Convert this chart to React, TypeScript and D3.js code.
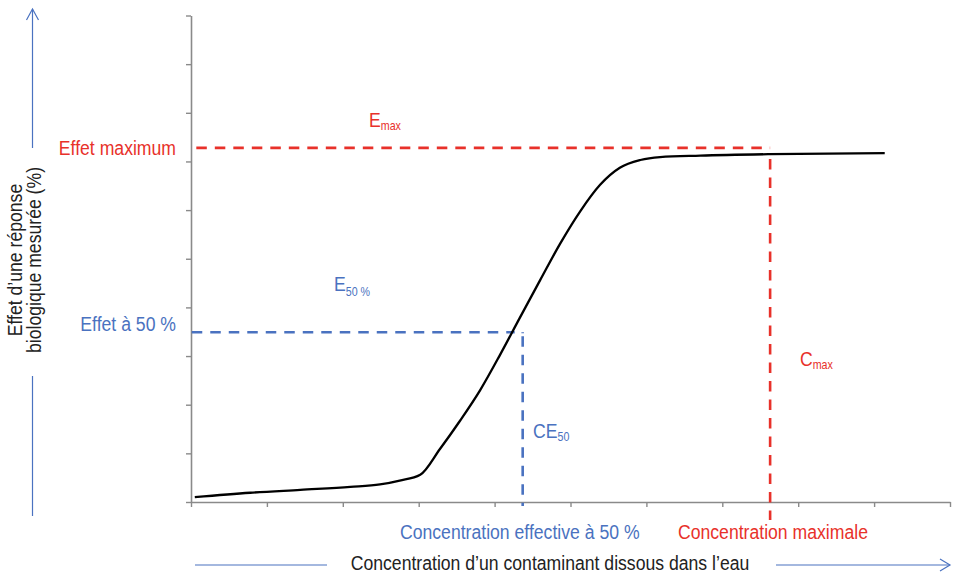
import React, { useEffect, useRef } from 'react';
import * as d3 from 'd3';

const W = 956;
const H = 574;

const xTicks = [0, 1, 2, 3, 4, 5, 6, 7, 8, 9, 10];
const yTicks = [0, 1, 2, 3, 4, 5, 6, 7, 8, 9, 10];

// Dose-response curve (concentration units, effect units)
const curveX = [0.05, 0.78, 1.44, 2.10, 2.49, 2.75, 3.02, 3.28, 3.54, 3.81, 4.07, 4.33, 4.60, 4.86, 5.13, 5.39, 5.65, 5.92, 6.18, 6.71, 7.63, 9.14];
const curveY = [0.10, 0.19, 0.25, 0.31, 0.36, 0.44, 0.56, 1.09, 1.66, 2.30, 3.02, 3.78, 4.56, 5.30, 5.98, 6.52, 6.87, 7.03, 7.09, 7.12, 7.15, 7.17];

// Reference levels
const effectMax = 7.28;
const concMax = 7.63;
const effect50 = 3.49;
const ce50 = 4.37;

const RED = '#E8312A';
const BLUE = '#4A72C0';
const AXIS = '#8a8a8a';
const FONT = '"Liberation Sans", Arial, Helvetica, sans-serif';

const x = d3.scaleLinear().domain([0, 10]).range([191, 950]);
const y = d3.scaleLinear().domain([0, 10]).range([502, 15.5]);

type LabelProps = {
  x: number; y: number; anchor?: string; size?: number; fill: string;
  sx?: number; rotate?: number; children: React.ReactNode;
};
const Label = ({ x, y, anchor = 'start', size = 19.8, fill, sx = 0.89, rotate = 0, children }: LabelProps) => (
  <text
    transform={`translate(${x},${y}) rotate(${rotate}) scale(${sx},1)`}
    textAnchor={anchor}
    fontSize={size}
    fill={fill}
    fontFamily={FONT}
  >
    {children}
  </text>
);

export default function App() {
  const xAxisRef = useRef<SVGGElement>(null);
  const yAxisRef = useRef<SVGGElement>(null);

  useEffect(() => {
    const xa = d3.axisBottom(x).tickValues(xTicks).tickFormat(() => '').tickSize(5).tickSizeOuter(0);
    const ya = d3.axisLeft(y).tickValues(yTicks).tickFormat(() => '').tickSize(5).tickSizeOuter(0);
    const gx = d3.select(xAxisRef.current!);
    gx.call(xa as any);
    const gy = d3.select(yAxisRef.current!);
    gy.call(ya as any);
    [gx, gy].forEach((g) => {
      g.select('.domain').attr('stroke', AXIS).attr('stroke-width', 1.6);
      g.selectAll('.tick line').attr('stroke', AXIS).attr('stroke-width', 1.4);
    });
  }, []);

  const line = d3
    .line<number>()
    .x((_, i) => x(curveX[i]))
    .y((d) => y(d))
    .curve(d3.curveMonotoneX);

  const dash = '10.5 8';

  return (
    <svg width={W} height={H} style={{ position: 'absolute', left: 0, top: 0, background: '#fff' }}>
      <rect width={W} height={H} fill="#fff" />
      <g ref={yAxisRef} transform={`translate(${x(0)},0)`} />
      <g ref={xAxisRef} transform={`translate(0,${y(0)})`} />

      {/* Emax horizontal */}
      <line x1={x(0.07)} x2={x(concMax)} y1={y(effectMax)} y2={y(effectMax)} stroke={RED} strokeWidth={2.6} strokeDasharray={dash} />
      {/* Cmax vertical */}
      <line x1={x(concMax)} x2={x(concMax)} y1={y(7.05)} y2={y(-0.37)} stroke={RED} strokeWidth={2.6} strokeDasharray={dash} />
      {/* E50 horizontal */}
      <line x1={x(0.01)} x2={x(ce50) - 8} y1={y(effect50)} y2={y(effect50)} stroke={BLUE} strokeWidth={2.6} strokeDasharray={dash} />
      {/* CE50 vertical */}
      <line x1={x(ce50)} x2={x(ce50)} y1={y(effect50)} y2={y(-0.08)} stroke={BLUE} strokeWidth={2.6} strokeDasharray="1 3 10.5 8 10.5 8 10.5 8 10.5 8 10.5 8 10.5 8 10.5 8 10.5 8 10.5 8 10.5 8" />

      {/* curve */}
      <path d={line(curveY) || ''} fill="none" stroke="#000" strokeWidth={2.3} />

      {/* axis arrows */}
      <g stroke={BLUE} strokeWidth={1.2} fill="none">
        <line x1={32.5} x2={32.5} y1={9} y2={148} />
        <line x1={32.5} x2={32.5} y1={376} y2={516} />
        <polyline points="26.5,20 32.5,9 38.5,20" />
        <line x1={195} x2={327} y1={565} y2={565} />
        <line x1={776} x2={950} y1={565} y2={565} />
        <polyline points="940,559 950,565 940,571" />
      </g>

      {/* Y title */}
      <Label x={22} y={260} anchor="middle" fill="#222" rotate={-90}>Effet d’une réponse</Label>
      <Label x={41} y={260} anchor="middle" fill="#222" rotate={-90}>biologique mesurée (%)</Label>

      {/* left labels */}
      <Label x={176} y={155} anchor="end" fill={RED}>Effet maximum</Label>
      <Label x={176} y={331} anchor="end" fill={BLUE}>Effet à 50 %</Label>

      {/* annotations */}
      <Label x={369} y={127} fill={RED}>E<tspan fontSize={12} dy={2.5}>max</tspan></Label>
      <Label x={334} y={291} fill={BLUE}>E<tspan fontSize={12} dy={5}>50 %</tspan></Label>
      <Label x={533} y={438} fill={BLUE}>CE<tspan fontSize={12} dy={3}>50</tspan></Label>
      <Label x={800} y={366} fill={RED}>C<tspan fontSize={12} dy={3}>max</tspan></Label>

      {/* bottom labels */}
      <Label x={400} y={539} fill={BLUE}>Concentration effective à 50 %</Label>
      <Label x={678} y={539} fill={RED}>Concentration maximale</Label>
      <Label x={550} y={570} anchor="middle" fill="#222">Concentration d’un contaminant dissous dans l’eau</Label>
    </svg>
  );
}
